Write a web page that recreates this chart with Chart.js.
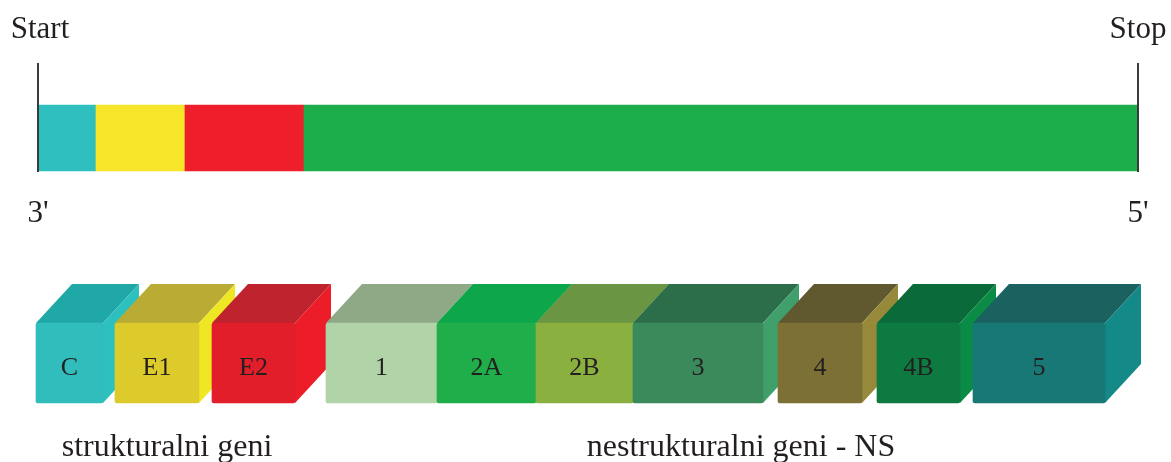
<!DOCTYPE html>
<html>
<head>
<meta charset="utf-8">
<script src="https://cdn.jsdelivr.net/npm/chart.js@4/dist/chart.umd.min.js"></script>
<style>
html, body { margin: 0; padding: 0; background: #fff; }
#wrap { width: 1171px; height: 462px; position: relative; }
</style>
</head>
<body>
<div id="wrap"><canvas id="genom"></canvas></div>
<script>
// genome bar, relative length units (0 = 3', 1100 = 5')
const genomeStart = [0, 58, 147, 266];
const genomeEnd = [58, 147, 266, 1100];
const genomeColors = ['#2fbfbf', '#f6e529', '#ee1f2b', '#1bae4b'];

// protein blocks (front faces)
const geneLabels = ['C', 'E1', 'E2', '1', '2A', '2B', '3', '4', '4B', '5'];
const geneStart = [-2, 77, 174, 288, 399, 498, 595, 740, 839, 935];
const geneEnd = [65, 161, 257, 399, 498, 595, 725, 824, 922, 1067];
const frontColors = ['#30bdbb', '#dccb2a', '#e31e2b', '#b1d3a8', '#1fae4a', '#8ab040', '#3a8a5c', '#7c7035', '#0d7a42', '#177876'];
const topColors = ['#20a8a6', '#b9ab34', '#bf232e', '#8fa987', '#0ea64a', '#6a9542', '#2c6e4a', '#60592f', '#0b6a3a', '#1a6160'];
const sideColors = ['#2cc0be', '#efe624', '#ed1c29', '#a5c99b', '#17a447', '#7fa83e', '#3fa06c', '#968a3a', '#0a8c46', '#138a87'];

const groupLabels = ['strukturalni geni', 'nestrukturalni geni - NS'];
const groupCenters = [129, 703];

const DX = 36, DY = 39;
const textColor = '#231f20';

const genomePoints = genomeStart.map((s, i) => ({ x: [s, genomeEnd[i]], y: 'genom' }));
const genePoints = geneStart.map((s, i) => ({ x: [s, geneEnd[i]], y: 'geni' }));

const boxPlugin = {
    id: 'boxes',
    beforeDatasetDraw(chart, args) {
        if (args.index !== 1) return;
        const ctx = chart.ctx;
        const meta = chart.getDatasetMeta(1);
        ctx.save();
        meta.data.forEach((bar, i) => {
            const p = bar.getProps(['x', 'y', 'base', 'height'], true);
            const left = Math.min(p.x, p.base);
            const right = Math.max(p.x, p.base);
            const top = p.y - p.height / 2;
            const bottom = p.y + p.height / 2;
            // top face
            ctx.fillStyle = topColors[i];
            ctx.beginPath();
            ctx.moveTo(left, top);
            ctx.lineTo(left + DX, top - DY);
            ctx.lineTo(right + DX, top - DY);
            ctx.lineTo(right, top);
            ctx.closePath();
            ctx.fill();
            // side face
            ctx.fillStyle = sideColors[i];
            ctx.beginPath();
            ctx.moveTo(right, top);
            ctx.lineTo(right + DX, top - DY);
            ctx.lineTo(right + DX, bottom - DY);
            ctx.lineTo(right, bottom);
            ctx.closePath();
            ctx.fill();
        });
        ctx.restore();
    },
    afterDatasetsDraw(chart) {
        const ctx = chart.ctx;
        const xs = chart.scales.x;
        const ys = chart.scales.y;
        const x0 = xs.getPixelForValue(0);
        const x1 = xs.getPixelForValue(1100);
        const yBar = ys.getPixelForValue(0);
        ctx.save();
        // start / stop markers
        ctx.strokeStyle = '#3a3a3a';
        ctx.lineWidth = 2;
        [x0, x1].forEach(x => {
            ctx.beginPath();
            ctx.moveTo(x, yBar - 75);
            ctx.lineTo(x, yBar + 34);
            ctx.stroke();
        });
        ctx.fillStyle = textColor;
        ctx.textAlign = 'center';
        ctx.textBaseline = 'alphabetic';
        ctx.font = '31px "Liberation Serif"';
        ctx.fillText('Start', x0 + 2, yBar - 100);
        ctx.fillText('Stop', x1, yBar - 100);
        ctx.fillText("3'", x0, yBar + 84);
        ctx.fillText("5'", x1, yBar + 84);
        // box labels
        ctx.font = '26px "Liberation Serif"';
        const meta = chart.getDatasetMeta(1);
        meta.data.forEach((bar, i) => {
            const p = bar.getProps(['x', 'y', 'base'], true);
            ctx.fillText(geneLabels[i], (p.x + p.base) / 2, p.y + 12);
        });
        // group captions
        ctx.font = '32px "Liberation Serif"';
        const yGene = ys.getPixelForValue(1);
        groupLabels.forEach((t, i) => {
            ctx.fillText(t, xs.getPixelForValue(groupCenters[i]), yGene + 93);
        });
        ctx.restore();
    }
};

new Chart(document.getElementById('genom').getContext('2d'), {
    type: 'bar',
    data: {
        labels: ['genom', 'geni'],
        datasets: [{
            label: 'genom',
            data: genomePoints,
            backgroundColor: genomeColors,
            barThickness: 66,
            grouped: false,
            borderWidth: 0,
            clip: false
        }, {
            label: 'geni',
            data: genePoints,
            backgroundColor: frontColors,
            barThickness: 80,
            grouped: false,
            borderWidth: 0,
            borderRadius: 2,
            borderSkipped: false,
            clip: false
        }]
    },
    options: {
        indexAxis: 'y',
        responsive: true,
        maintainAspectRatio: false,
        animation: false,
        layout: { padding: { top: 138, bottom: 99, left: 38, right: 33 } },
        scales: {
            x: { type: 'linear', min: 0, max: 1100, display: false },
            y: { type: 'category', offset: false, display: false }
        },
        plugins: {
            legend: { display: false },
            tooltip: { enabled: false }
        }
    },
    plugins: [boxPlugin]
});
</script>
</body>
</html>
